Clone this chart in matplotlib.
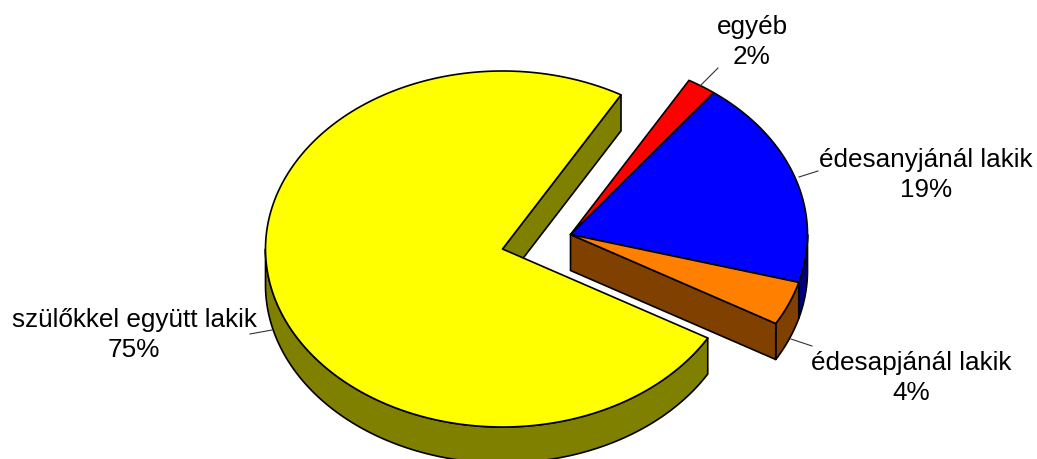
import numpy as np
import matplotlib
matplotlib.use("Agg")
import matplotlib.pyplot as plt
from matplotlib.patches import Polygon

# data, clockwise from the start angle
categories = ["egyéb", "édesanyjánál lakik", "édesapjánál lakik", "szülőkkel együtt lakik"]
shares = [2, 19, 4, 75]
percent_labels = ["2%", "19%", "4%", "75%"]

top_colors = ["#FF0000", "#0000FF", "#FF8000", "#FFFF00"]
side_colors = ["#800000", "#000080", "#804000", "#808000"]

START_ANGLE = 60
RX, RY = 237, 178
DEPTH = 36
CENTERS = [(570.5, 235.5), (570.5, 235.5), (570.5, 235.5), (502.5, 250)]
LABEL_POS = [(752, 42), (926, 175), (911, 378), (134, 335)]
LEADERS = [((700, 87), (718, 69)), ((799, 178), (818, 172)),
           ((791, 340), (812, 347)), ((272, 331), (250, 335))]


def rim_point(center, angle):
    a = np.radians(angle)
    return center[0] + RX * np.cos(a), center[1] - RY * np.sin(a)


def arc(center, a1, a2):
    n = max(int(abs(a2 - a1) * 2), 2)
    return [rim_point(center, a) for a in np.linspace(a1, a2, n)]


def draw_poly(ax, pts, color, z):
    ax.add_patch(Polygon(pts, closed=True, facecolor=color, edgecolor="black",
                         linewidth=1.2, joinstyle="round", zorder=z))


def shifted(pts):
    return [(x, y + DEPTH) for x, y in pts]


fig = plt.figure(figsize=(10.37, 4.6), dpi=100)
ax = fig.add_axes([0, 0, 1, 1])
ax.set_xlim(0, 1037)
ax.set_ylim(460, 0)
ax.axis("off")

# slice angles from the shares
ends = START_ANGLE - np.cumsum(shares) * 3.6
starts = np.concatenate([[START_ANGLE], ends[:-1]])

# inner walls first
yellow_c = CENTERS[3]
p = rim_point(yellow_c, START_ANGLE)
draw_poly(ax, [yellow_c, p, (p[0], p[1] + DEPTH), (yellow_c[0], yellow_c[1] + DEPTH)],
          side_colors[3], 1)

group_c = CENTERS[0]
p = rim_point(group_c, ends[2])
draw_poly(ax, [group_c, p, (p[0], p[1] + DEPTH), (group_c[0], group_c[1] + DEPTH)],
          side_colors[2], 3)

for i in range(len(shares)):
    a_hi, a_lo = starts[i], ends[i]
    c = CENTERS[i]
    # outer rim, only the part facing down is visible
    lo, hi = max(a_lo, -180), min(a_hi, 0)
    if hi > lo:
        top = arc(c, hi, lo)
        draw_poly(ax, top + shifted(top)[::-1], side_colors[i], 2)
    # top face
    draw_poly(ax, [c] + arc(c, a_hi, a_lo), top_colors[i], 4 if i < 3 else 2.5)

for (a, b) in LEADERS:
    ax.plot([a[0], b[0]], [a[1], b[1]], color="#333333", linewidth=0.8, zorder=5)

for name, pct, pos in zip(categories, percent_labels, LABEL_POS):
    ax.text(pos[0], pos[1], f"{name}\n{pct}", ha="center", va="center",
            fontsize=18.8, family="Liberation Sans", color="black",
            linespacing=1.3, zorder=6)

fig.savefig("out.png", dpi=100)
